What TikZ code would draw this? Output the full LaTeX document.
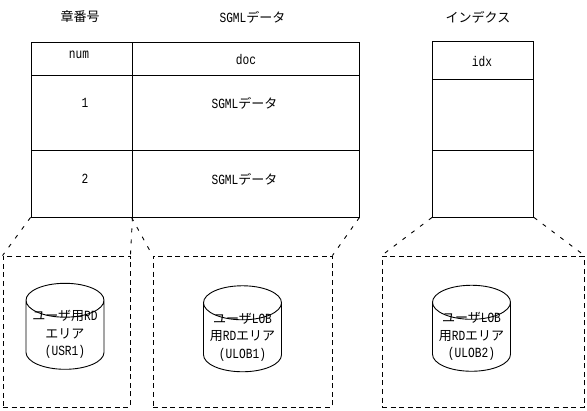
\documentclass[tikz,border=0pt]{standalone}
\usepackage{fontspec}
\setmainfont{Noto Sans CJK JP}
\newfontfamily\latfont[FakeStretch=0.8]{Liberation Mono}
\newcommand{\la}[1]{{\latfont\fontsize{14}{17}\selectfont #1}}
\newcommand{\drumtxt}[1]{\raisebox{-3pt}[13pt][13pt]{\begin{tabular}{@{}c@{}}#1\end{tabular}}}
\usetikzlibrary{shapes.geometric, positioning}
\tikzset{
    cellbox/.style={draw, line width=0.9pt, inner sep=0pt},
    areabox/.style={draw, line width=0.9pt, dash pattern=on 5pt off 3.6pt, inner sep=0pt},
    linkline/.style={line width=0.9pt, dash pattern=on 4pt off 7pt},
    drum/.style={draw, line width=0.9pt, cylinder, shape border rotate=90, aspect=0.52, inner sep=0pt,
        minimum width=78pt, minimum height=86pt, font=\fontsize{13}{17.5}\selectfont},
    lbl/.style={inner sep=0pt, font=\fontsize{13}{17.5}\selectfont}
}
\begin{document}
\begin{tikzpicture}[x=1pt, y=-1pt]
\useasboundingbox (0,0) rectangle (587,411);
% table and index cells
\foreach \name/\cx/\cy/\w/\h in {
    numhead/81.5/58.5/101/33,
    dochead/245.5/58.5/227/33,
    numa/81.5/112.5/101/75,
    doca/245.5/112.5/227/75,
    numb/81.5/183.5/101/67,
    docb/245.5/183.5/227/67,
    idxhead/483/60/101/38,
    idxa/483/114.5/101/71,
    idxb/483/183.5/101/67
} {
    \node[cellbox, minimum width=\w pt, minimum height=\h pt] (\name) at (\cx,\cy) {};
}
% texts
\node[lbl] (capno) at (80,17) {章番号};
\node[lbl] (capdoc) at (252.5,17) {\la{SGML}データ};
\node[lbl] (capidx) at (478,17) {インデクス};
\node[lbl] (numtxt) at (79,55) {\la{num}};
\node[lbl] (doctxt) at (246,60) {\la{doc}};
\node[lbl] (idxtxt) at (482,62) {\la{idx}};
\node[lbl] (onetxt) at (85,103) {\la{1}};
\node[lbl] (twotxt) at (85,179) {\la{2}};
\node[lbl] (sgmla) at (244.5,103) {\la{SGML}データ};
\node[lbl] (sgmlb) at (244.5,179) {\la{SGML}データ};
% RD areas
\foreach \name/\cx/\w in {
    areaa/66.5/127,
    areab/242.5/179,
    areac/483/202
} {
    \node[areabox, minimum width=\w pt, minimum height=151pt] (\name) at (\cx,331.5) {};
}
\node[drum] (usrdb) at (65,335) {\drumtxt{ユーザ用\la{RD}\\エリア\\\la{(USR1)}}};
\node[drum] (loba) at (242.5,337.5) {\drumtxt{ユーザ\la{LOB}\\用\la{RD}エリア\\\la{(ULOB1)}}};
\node[drum] (lobb) at (471.5,337) {\drumtxt{ユーザ\la{LOB}\\用\la{RD}エリア\\\la{(ULOB2)}}};
% links
\draw[linkline] (numb.south west) -- (areaa.north west);
\draw[linkline] (numb.south east) -- (areaa.north east);
\draw[linkline] (docb.south west) -- (areab.north west);
\draw[linkline] (docb.south east) -- (areab.north east);
\draw[linkline] (idxb.south west) -- (areac.north west);
\draw[linkline] (idxb.south east) -- (areac.north east);
\end{tikzpicture}
\end{document}
